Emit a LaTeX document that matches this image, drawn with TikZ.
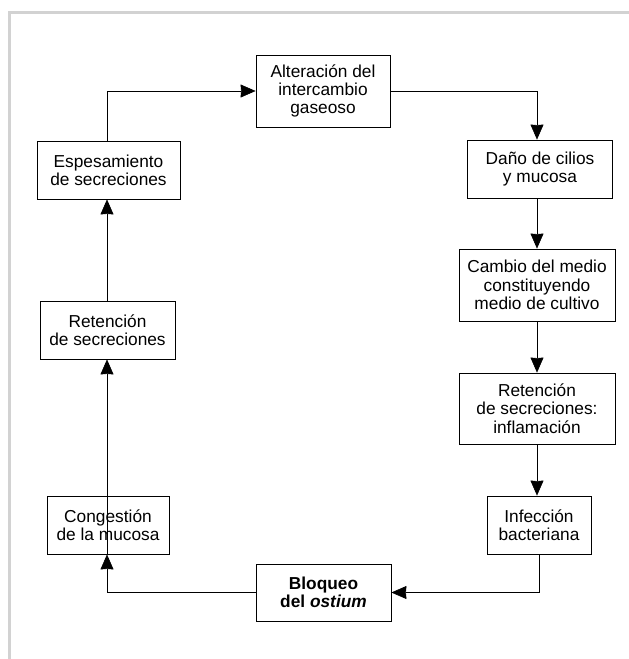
\documentclass[tikz,border=0pt]{standalone}
\usepackage{fontspec}
\setmainfont{Liberation Sans}
\usetikzlibrary{arrows.meta}

\begin{document}
\begin{tikzpicture}[x=1pt,y=-1pt,
    caja/.style={draw,thick,align=center,inner sep=0pt,font=\fontsize{17.3pt}{18.3pt}\selectfont},
    flecha/.style={->,>={Stealth[length=15pt,width=13pt,inset=0.5pt]},semithick}]
      \useasboundingbox (0,0) rectangle (629,659);
      \draw[line width=3pt,color={rgb,255:red,210;green,210;blue,210}] (629,12.5)--(9.5,12.5)--(9.5,659); %marco

      \node[caja,minimum width=134pt,minimum height=72pt] (alt) at (323,91) {Alteración del\\intercambio\\gaseoso};
      \node[caja,minimum width=145pt,minimum height=58pt] (dano) at (540,169) {Daño de cilios\\y mucosa};
      \node[caja,minimum width=156pt,minimum height=72pt] (cambio) at (537,285) {Cambio del medio\\constituyendo\\medio de cultivo};
      \node[caja,minimum width=156pt,minimum height=71pt] (inflam) at (537,408.5) {Retención\\de secreciones:\\inflamación};
      \node[caja,minimum width=104pt,minimum height=58pt] (infec) at (539,525) {Infección\\bacteriana};
      \node[caja,minimum width=135pt,minimum height=57pt] (bloq) at (323.5,592.5) {\textbf{Bloqueo}\\\textbf{del \textit{ostium}}};
      \node[caja,minimum width=122pt,minimum height=58pt] (cong) at (108,525) {Congestión\\de la mucosa};
      \node[caja,minimum width=135pt,minimum height=58pt] (ret) at (107.5,330) {Retención\\de secreciones};
      \node[caja,minimum width=143pt,minimum height=58pt] (esp) at (108.5,170) {Espesamiento\\de secreciones};

      \coordinate (c1) at (537,91);
      \coordinate (c2) at (539,592.5);
      \coordinate (c3) at (107,592.5);

      \draw[flecha] (esp.north-|107,0) |- (alt.west);
      \draw[flecha] (alt.east)--(c1)--(c1|-dano.north);
      \draw[flecha] (dano.south-|537,0)--(cambio.north);
      \draw[flecha] (cambio.south)--(inflam.north);
      \draw[flecha] (inflam.south)--(inflam.south|-infec.north);
      \draw[flecha] (infec.south)--(c2)--(bloq.east);
      \draw[flecha] (bloq.west)--(c3)--(c3|-cong.south);
      \draw[flecha] (cong.south-|107,0)--(ret.south-|107,0);
      \draw[flecha] (ret.north-|107,0)--(esp.south-|107,0);
    \end{tikzpicture}
\end{document}
